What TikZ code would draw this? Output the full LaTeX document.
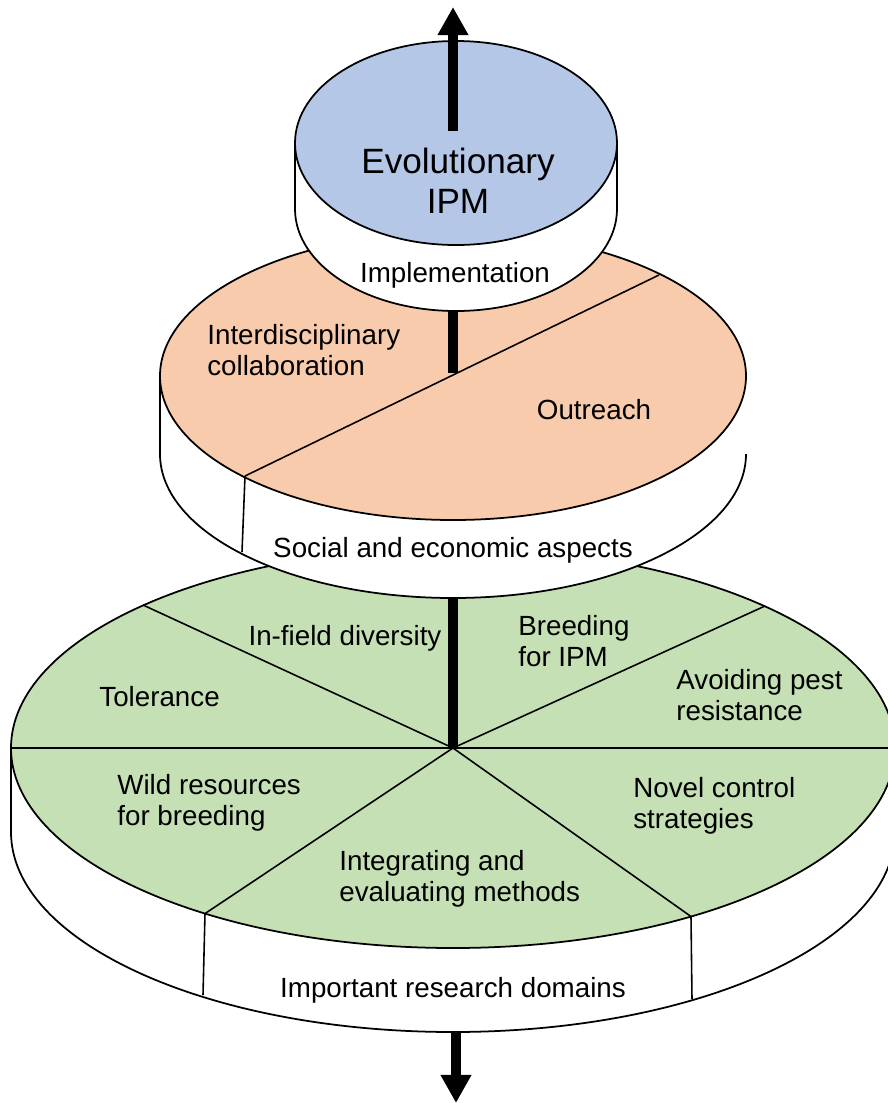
\documentclass[tikz,border=0pt]{standalone}
\usepackage{fontspec}
\setmainfont{Liberation Sans}
\usetikzlibrary{arrows.meta}
\definecolor{topblue}{HTML}{B4C7E7}
\definecolor{midorange}{HTML}{F8CBAD}
\definecolor{botgreen}{HTML}{C5E0B4}
\begin{document}
\begin{tikzpicture}[x=0.02cm,y=0.02cm,
  outline/.style={line width=1pt,black},
  seam/.style={line width=0.9pt,black},
  bar/.style={line width=5.2pt,black},
  lbl/.style={inner sep=0pt,font=\fontsize{15.8}{17.6}\selectfont},
  biglbl/.style={inner sep=0pt,align=center,font=\fontsize{20}{22.7}\selectfont},
  bigarrow/.style={line width=5.4pt,-{Triangle[width=16.5pt,length=16pt]}}]
\useasboundingbox (0,0) rectangle (887,-1103);
% ---------- bottom disk ----------
\coordinate (bc) at (453,-748);
\fill[white] (11,-748) -- (11,-832) arc[start angle=180,end angle=360,x radius=442,y radius=200] -- (895,-748) -- cycle;
\draw[outline] (11,-748) -- (11,-832) arc[start angle=180,end angle=360,x radius=442,y radius=200] -- (895,-748);
\draw[outline,fill=botgreen] (bc) ellipse[x radius=442,y radius=200];
\coordinate (bL) at (11,-748);
\coordinate (bR) at (895,-748);
\coordinate (bUL) at (143,-605);
\coordinate (bUR) at (765,-606);
\coordinate (bLL) at (205,-913.6);
\coordinate (bLR) at (691,-916.5);
\coordinate (bLLs) at (203,-995);
\coordinate (bLRs) at (692,-999);
\draw[seam] (bL) -- (bR);
\draw[seam] (bUL) -- (bc) -- (bUR);
\draw[seam] (bLL) -- (bc) -- (bLR);
\draw[seam] (bLL) -- (bLLs);
\draw[seam] (bLR) -- (bLRs);
\coordinate (bbarTop) at (453,-560);
\draw[bar] (bc) -- (bbarTop);
\coordinate (bbot) at (456,-1032);
\coordinate (btip) at (456,-1103);
\draw[bigarrow] (bbot) -- (btip);
\node[lbl,anchor=center] (infield) at (345,-638) {In-field diversity};
\node[lbl,anchor=west,align=left] (breed) at (518,-641) {Breeding\\for IPM};
\node[lbl,anchor=west,align=left] (avoid) at (676,-695) {Avoiding pest\\resistance};
\node[lbl,anchor=west] (tol) at (99,-697) {Tolerance};
\node[lbl,anchor=west,align=left] (wild) at (117,-803) {Wild resources\\for breeding};
\node[lbl,anchor=west,align=left] (novel) at (633,-806) {Novel control\\strategies};
\node[lbl,anchor=west,align=left] (integ) at (339,-879) {Integrating and\\evaluating methods};
\node[lbl] (imprd) at (453,-990) {Important research domains};
% ---------- middle disk ----------
\coordinate (mc) at (453,-376);
\fill[white] (160,-376) -- (160,-454) arc[start angle=180,end angle=360,x radius=293,y radius=144] -- (746,-454) -- cycle;
\draw[outline] (160,-376) -- (160,-454) arc[start angle=180,end angle=360,x radius=293,y radius=144] -- (746,-454);
\draw[outline,fill=midorange] (mc) ellipse[x radius=293,y radius=144];
\coordinate (mA) at (245,-476);
\coordinate (mB) at (659,-275);
\coordinate (mAs) at (242,-552);
\draw[seam] (mA) -- (mB);
\draw[seam] (mA) -- (mAs);
\coordinate (mbarTop) at (453,-290);
\coordinate (mbarBot) at (453,-373);
\draw[bar] (mbarBot) -- (mbarTop);
\node[lbl,anchor=west,align=left] (inter) at (207,-350) {Interdisciplinary\\collaboration};
\node[lbl] (outr) at (594,-410) {Outreach};
\node[lbl] (social) at (453,-550) {Social and economic aspects};
% ---------- top disk ----------
\coordinate (tc) at (456,-143);
\fill[white] (295,-143) -- (295,-209) arc[start angle=180,end angle=360,x radius=161,y radius=102] -- (617,-143) -- cycle;
\draw[outline] (295,-143) -- (295,-209) arc[start angle=180,end angle=360,x radius=161,y radius=102] -- (617,-143);
\draw[outline,fill=topblue] (tc) ellipse[x radius=161,y radius=102];
\coordinate (tbase) at (453,-131);
\coordinate (ttip) at (453,-7);
\draw[bigarrow] (tbase) -- (ttip);
\node[biglbl] (evo) at (458,-181) {Evolutionary\\IPM};
\node[lbl] (impl) at (455,-275) {Implementation};
\end{tikzpicture}
\end{document}
